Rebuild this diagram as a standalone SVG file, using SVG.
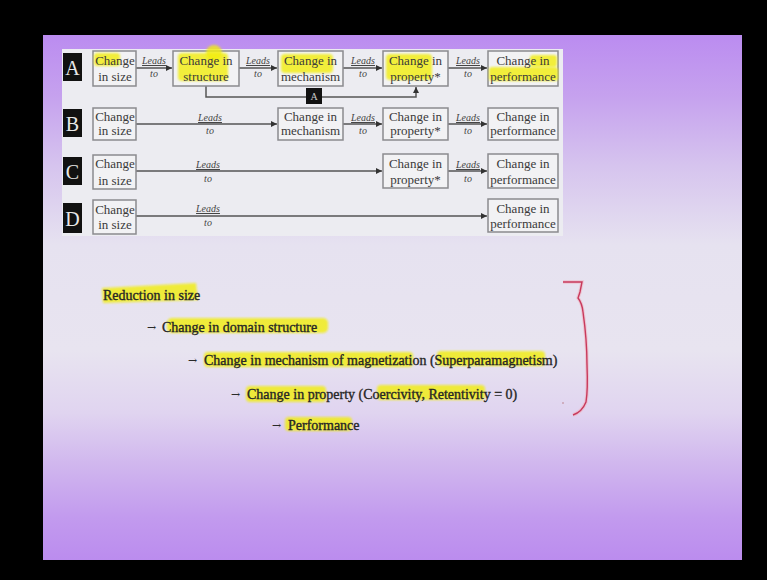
<svg xmlns="http://www.w3.org/2000/svg" width="767" height="580" viewBox="0 0 767 580">
<defs>
<linearGradient id="slideGrad" x1="0" y1="35" x2="0" y2="560" gradientUnits="userSpaceOnUse">
<stop offset="0" stop-color="#bb8cf0"/>
<stop offset="0.12" stop-color="#c6a2ee"/>
<stop offset="0.25" stop-color="#d6c4ee"/>
<stop offset="0.40" stop-color="#e6e2f0"/>
<stop offset="0.60" stop-color="#e8e4f0"/>
<stop offset="0.72" stop-color="#e0d4f0"/>
<stop offset="0.82" stop-color="#d0b6ee"/>
<stop offset="0.92" stop-color="#c29aee"/>
<stop offset="1" stop-color="#bb8cee"/>
</linearGradient>
<filter id="soft" x="-10%" y="-30%" width="120%" height="160%"><feGaussianBlur stdDeviation="1"/></filter>
<marker id="ah" markerUnits="userSpaceOnUse" markerWidth="7" markerHeight="7" refX="6" refY="3" orient="auto">
<path d="M0,0 L6,3 L0,6 z" fill="#333"/>
</marker>
<style>
.box{fill:#f2f2f4;stroke:#8a8a8e;stroke-width:1.5}
.bt{font-family:"Liberation Serif","Times New Roman",serif;font-size:13px;fill:#3a3a3a;text-anchor:middle}
.lab{fill:#111}
.lt{font-family:"Liberation Serif","Times New Roman",serif;font-size:20px;fill:#e8e8e8;text-anchor:middle}
.ld{font-family:"Liberation Serif","Times New Roman",serif;font-size:10px;font-style:italic;fill:#444;text-anchor:middle}
.u{text-decoration:underline}
.cn{stroke:#555;stroke-width:1.5;fill:none}
.hl{fill:#f2ee10;opacity:0.8;filter:url(#soft)}
.mt{font-family:"Liberation Serif","Times New Roman",serif;font-size:14px;fill:#262626;stroke:#262626;stroke-width:0.35}
.ar{font-family:"DejaVu Serif","Liberation Serif",serif;font-size:11px;fill:#2a2a2a}
</style>
</defs>
<rect x="0" y="0" width="767" height="580" fill="#000"/>
<rect x="43" y="35" width="699" height="525" fill="url(#slideGrad)"/>
<rect x="62" y="49" width="501" height="187" fill="#ececf1"/>

<!-- Row labels -->
<g id="label-A"><rect class="lab" x="63" y="53" width="19" height="28"/><text class="lt" x="72.5" y="75">A</text></g>
<g id="label-B"><rect class="lab" x="63" y="109" width="19" height="28"/><text class="lt" x="72.5" y="131">B</text></g>
<g id="label-C"><rect class="lab" x="63" y="157" width="19" height="28"/><text class="lt" x="72.5" y="179">C</text></g>
<g id="label-D"><rect class="lab" x="63" y="203" width="19" height="30"/><text class="lt" x="72.5" y="226">D</text></g>

<!-- Connectors -->
<g id="connectors">
<line class="cn" x1="136" y1="68" x2="172" y2="68" marker-end="url(#ah)"/>
<line class="cn" x1="239" y1="68" x2="277" y2="68" marker-end="url(#ah)"/>
<line class="cn" x1="343" y1="68" x2="382" y2="68" marker-end="url(#ah)"/>
<line class="cn" x1="448" y1="68" x2="487" y2="68" marker-end="url(#ah)"/>
<polyline class="cn" points="206,86 206,97 416,97 416,87" marker-end="url(#ah)"/>
<line class="cn" x1="136" y1="124" x2="277" y2="124" marker-end="url(#ah)"/>
<line class="cn" x1="343" y1="124" x2="382" y2="124" marker-end="url(#ah)"/>
<line class="cn" x1="448" y1="124" x2="487" y2="124" marker-end="url(#ah)"/>
<line class="cn" x1="136" y1="171" x2="382" y2="171" marker-end="url(#ah)"/>
<line class="cn" x1="448" y1="171" x2="487" y2="171" marker-end="url(#ah)"/>
<line class="cn" x1="136" y1="216" x2="487" y2="216" marker-end="url(#ah)"/>
<text class="ld u" x="154" y="64">Leads</text><text class="ld" x="154" y="77">to</text>
<text class="ld u" x="258" y="64">Leads</text><text class="ld" x="258" y="77">to</text>
<text class="ld u" x="363" y="64">Leads</text><text class="ld" x="363" y="77">to</text>
<text class="ld u" x="468" y="64">Leads</text><text class="ld" x="468" y="77">to</text>
<rect x="306" y="88" width="16" height="16" fill="#111"/>
<text x="314" y="100" font-family="Liberation Serif, serif" font-size="10" fill="#ccc" text-anchor="middle">A</text>
<text class="ld u" x="210" y="121">Leads</text><text class="ld" x="210" y="134">to</text>
<text class="ld u" x="363" y="121">Leads</text><text class="ld" x="363" y="134">to</text>
<text class="ld u" x="468" y="121">Leads</text><text class="ld" x="468" y="134">to</text>
<text class="ld u" x="208" y="168">Leads</text><text class="ld" x="208" y="182">to</text>
<text class="ld u" x="468" y="168">Leads</text><text class="ld" x="468" y="182">to</text>
<text class="ld u" x="208" y="212">Leads</text><text class="ld" x="208" y="226">to</text>
</g>

<!-- Row A -->
<g id="A-size"><rect class="box" x="93" y="51" width="43" height="35"/><rect class="hl" x="94" y="53" width="26" height="13" rx="3"/><text class="bt" x="115" y="64.5">Change</text><text class="bt" x="115" y="80.5">in size</text></g>
<g id="A-structure"><rect class="box" x="173" y="51" width="66" height="35"/><rect class="hl" x="178" y="53" width="50" height="28" rx="4"/><circle class="hl" cx="214" cy="53" r="8"/><text class="bt" x="206" y="64.5">Change in</text><text class="bt" x="206" y="80.5">structure</text></g>
<g id="A-mechanism"><rect class="box" x="278" y="51" width="65" height="35"/><rect class="hl" x="281" y="54" width="52" height="19" rx="4"/><text class="bt" x="310.5" y="64.5">Change in</text><text class="bt" x="310.5" y="80.5">mechanism</text></g>
<g id="A-property"><rect class="box" x="383" y="51" width="65" height="35"/><rect class="hl" x="386" y="54" width="46" height="26" rx="4"/><text class="bt" x="415.5" y="64.5">Change in</text><text class="bt" x="415.5" y="80.5">property*</text></g>
<g id="A-performance"><rect class="box" x="488" y="51" width="70" height="35"/><rect class="hl" x="530" y="55" width="27" height="12" rx="3"/><rect class="hl" x="489" y="67" width="69" height="14" rx="3"/><text class="bt" x="523" y="64.5">Change in</text><text class="bt" x="523" y="80.5">performance</text></g>

<!-- Row B -->
<g id="B-size"><rect class="box" x="93" y="108" width="43" height="32"/><text class="bt" x="115" y="121">Change</text><text class="bt" x="115" y="135">in size</text></g>
<g id="B-mechanism"><rect class="box" x="278" y="108" width="65" height="32"/><text class="bt" x="310.5" y="121">Change in</text><text class="bt" x="310.5" y="135">mechanism</text></g>
<g id="B-property"><rect class="box" x="383" y="108" width="65" height="32"/><text class="bt" x="415.5" y="121">Change in</text><text class="bt" x="415.5" y="135">property*</text></g>
<g id="B-performance"><rect class="box" x="488" y="108" width="70" height="32"/><text class="bt" x="523" y="121">Change in</text><text class="bt" x="523" y="135">performance</text></g>

<!-- Row C -->
<g id="C-size"><rect class="box" x="93" y="155" width="43" height="34"/><text class="bt" x="115" y="168">Change</text><text class="bt" x="115" y="185">in size</text></g>
<g id="C-property"><rect class="box" x="383" y="154" width="65" height="34"/><text class="bt" x="415.5" y="168">Change in</text><text class="bt" x="415.5" y="184">property*</text></g>
<g id="C-performance"><rect class="box" x="488" y="154" width="70" height="34"/><text class="bt" x="523" y="168">Change in</text><text class="bt" x="523" y="184">performance</text></g>

<!-- Row D -->
<g id="D-size"><rect class="box" x="93" y="200" width="43" height="34"/><text class="bt" x="115" y="214">Change</text><text class="bt" x="115" y="229">in size</text></g>
<g id="D-performance"><rect class="box" x="488" y="199" width="70" height="33"/><text class="bt" x="523" y="213">Change in</text><text class="bt" x="523" y="228">performance</text></g>

<!-- Bottom text -->
<g id="line1"><path class="hl" d="M102,288 L196,283 L198,300 L103,303 z"/><text class="mt" x="103" y="300">Reduction in size</text></g>
<g id="line2"><rect class="hl" x="167" y="318" width="161" height="15" rx="5"/><text class="ar" x="147" y="331">→</text><text class="mt" x="162" y="332">Change in domain structure</text></g>
<g id="line3"><rect class="hl" x="204" y="352" width="209" height="15" rx="4"/><rect class="hl" x="437" y="351" width="108" height="15" rx="4"/><text class="ar" x="188" y="364">→</text><text class="mt" x="204" y="365">Change in mechanism of magnetization (Superparamagnetism)</text></g>
<g id="line4"><rect class="hl" x="246" y="386" width="80" height="16" rx="4"/><rect class="hl" x="377" y="385" width="108" height="15" rx="4"/><text class="ar" x="231" y="398">→</text><text class="mt" x="247" y="399">Change in property (Coercivity, Retentivity = 0)</text></g>
<g id="line5"><rect class="hl" x="285" y="417" width="67" height="14" rx="4"/><text class="ar" x="272" y="429">→</text><text class="mt" x="288" y="430">Performance</text></g>

<!-- Red brace -->
<g id="brace">
<path d="M563,282 L582,282 L580,292 L578,298 Q582,303 583,312 Q587,340 587,365 Q588,390 586,402 Q582,412 573,415" fill="none" stroke="#f0b0c0" stroke-width="3.5" opacity="0.6"/>
<path d="M563,282 L582,282 L580,292 L578,298 Q582,303 583,312 Q587,340 587,365 Q588,390 586,402 Q582,412 573,415" fill="none" stroke="#c83a5c" stroke-width="1.4"/>
<circle cx="563" cy="403" r="1" fill="#c8a0b0"/>
</g>
</svg>
